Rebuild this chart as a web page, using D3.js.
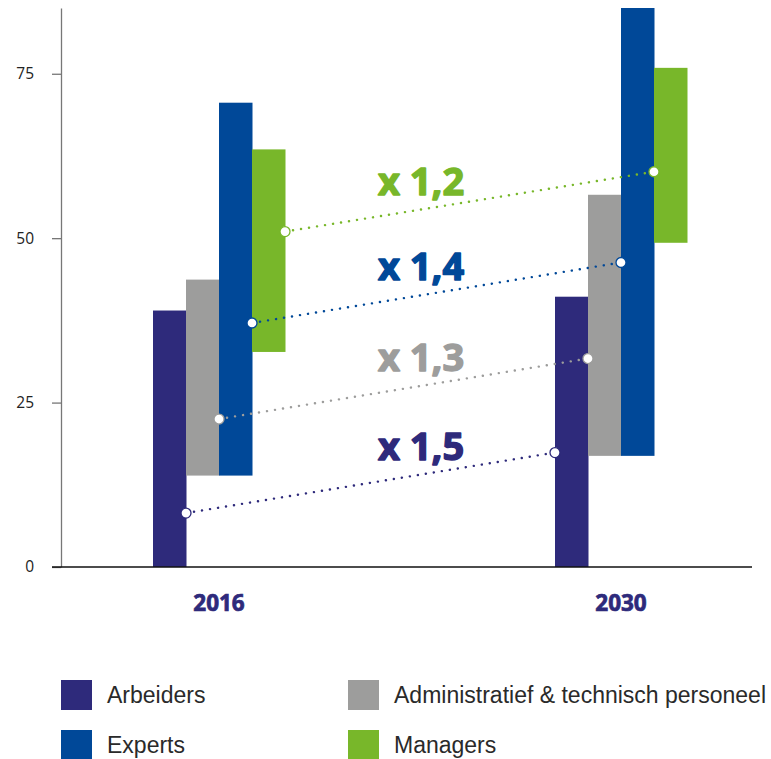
<!DOCTYPE html>
<html>
<head>
<meta charset="utf-8">
<script src="https://cdn.jsdelivr.net/npm/d3@7"></script>
<style>
  html, body { margin: 0; padding: 0; background: #fff; }
  svg { display: block; }
</style>
</head>
<body>
<svg id="chart" width="771" height="759"></svg>
<script>
// ---- data ----
const years = ["2016", "2030"];
const series = ["Arbeiders", "Administratief & technisch personeel", "Experts", "Managers"];
const colors = ["#2e2a7b", "#9d9d9c", "#004898", "#78b72a"];
const low2016 = [0, 13.9, 13.9, 32.7];
const high2016 = [39.0, 43.7, 70.6, 63.5];
const low2030 = [0, 16.9, 16.9, 49.3];
const high2030 = [41.1, 56.6, 85.0, 75.9];
const dot2016 = [8.2, 22.5, 37.1, 51.0];
const dot2030 = [17.4, 31.7, 46.3, 60.1];
const multipliers = ["x 1,5", "x 1,3", "x 1,4", "x 1,2"];
const yTicks = [0, 25, 50, 75];
const legendOrder = [[0, 1], [2, 3]];

// ---- layout ----
const svg = d3.select("#chart");
const y = d3.scaleLinear().domain([0, 85]).range([567, 8]);
const x = d3.scalePoint().domain(years).range([219, 621]);
const xs = d3.scaleBand().domain(series).range([-66, 66]).padding(0);

const lows = { "2016": low2016, "2030": low2030 };
const highs = { "2016": high2016, "2030": high2030 };

// bars
years.forEach(yr => {
  svg.append("g").selectAll("rect")
    .data(series)
    .join("rect")
    .attr("x", s => x(yr) + xs(s))
    .attr("width", xs.bandwidth() + 0.5)
    .attr("y", (s, i) => y(highs[yr][i]))
    .attr("height", (s, i) => y(lows[yr][i]) - y(highs[yr][i]))
    .attr("fill", (s, i) => colors[i]);
});

// y axis
const yAxis = svg.append("g")
  .attr("transform", "translate(61,0)")
  .call(d3.axisLeft(y).tickValues(yTicks).tickSize(9).tickSizeOuter(0).tickPadding(18));
yAxis.select(".domain").attr("stroke", "#777").attr("stroke-width", 1.3);
yAxis.selectAll(".tick line").attr("stroke", "#777").attr("stroke-width", 1.3);
yAxis.selectAll(".tick text")
  .attr("font-family", "'Open Sans', sans-serif")
  .attr("font-size", 15.5)
  .attr("fill", "#222");

// x axis line
svg.append("line")
  .attr("x1", 52).attr("x2", 752)
  .attr("y1", y(0)).attr("y2", y(0))
  .attr("stroke", "#111").attr("stroke-width", 1.3);

// year labels
svg.append("g").selectAll("text")
  .data(years)
  .join("text")
  .attr("x", d => x(d))
  .attr("y", 611)
  .attr("text-anchor", "middle")
  .attr("font-family", "'Open Sans', sans-serif")
  .attr("font-weight", 700)
  .attr("font-size", 22.5)
  .attr("fill", "#2e2a7b")
  .attr("stroke", "#2e2a7b")
  .attr("stroke-width", 0.7)
  .text(d => d);

// connectors
series.forEach((s, i) => {
  const x1 = x("2016") + xs(s) + xs.bandwidth();
  const x2 = x("2030") + xs(s);
  const y1 = y(dot2016[i]);
  const y2 = y(dot2030[i]);
  svg.append("line")
    .attr("x1", x1).attr("y1", y1).attr("x2", x2).attr("y2", y2)
    .attr("stroke", colors[i])
    .attr("stroke-width", 2.4)
    .attr("stroke-linecap", "round")
    .attr("stroke-dasharray", "0.1,8");
  [[x1, y1], [x2, y2]].forEach(p => {
    svg.append("circle")
      .attr("cx", p[0]).attr("cy", p[1]).attr("r", 5)
      .attr("fill", "#fff")
      .attr("stroke", colors[i])
      .attr("stroke-width", 1.3);
  });
  const lx = 420;
  const ly = y1 + (y2 - y1) * (lx - x1) / (x2 - x1);
  svg.append("text")
    .attr("x", 378)
    .attr("y", ly - 15)
    .attr("font-family", "'Open Sans', sans-serif")
    .attr("font-weight", 700)
    .attr("font-size", 38)
    .attr("fill", colors[i])
    .attr("stroke", colors[i])
    .attr("stroke-width", 1.4)
    .attr("stroke-linejoin", "round")
    .text(multipliers[i]);
});

// legend
const legend = svg.append("g");
legendOrder.forEach((row, r) => {
  row.forEach((idx, c) => {
    const gx = c === 0 ? 61 : 348;
    const gy = 680 + r * 50;
    legend.append("rect")
      .attr("x", gx).attr("y", gy)
      .attr("width", 31).attr("height", 30)
      .attr("fill", colors[idx]);
    legend.append("text")
      .attr("x", gx + 46).attr("y", gy + 23)
      .attr("font-family", "'Liberation Sans Narrow', 'Arial Narrow', sans-serif")
      .attr("font-size", 23)
      .attr("fill", "#2a2a2a")
      .text(series[idx]);
  });
});
</script>
</body>
</html>
